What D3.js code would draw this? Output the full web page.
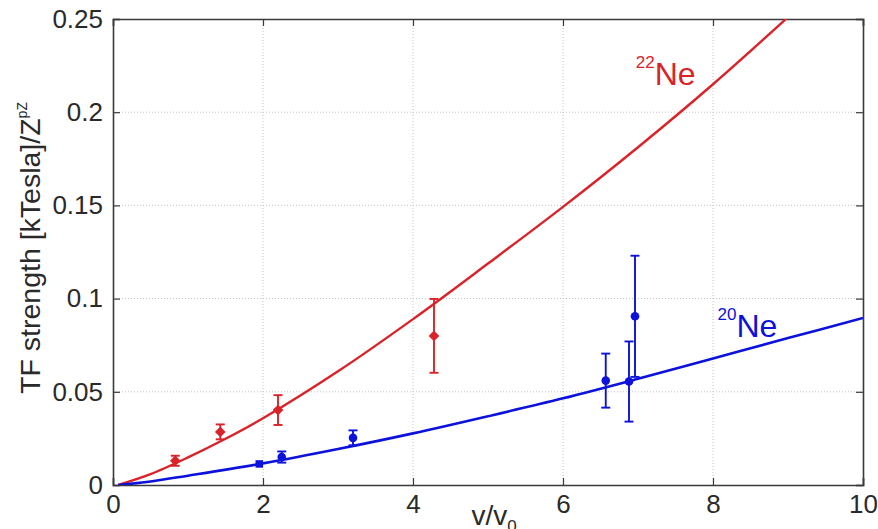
<!DOCTYPE html>
<html>
<head>
<meta charset="utf-8">
<script src="https://cdn.jsdelivr.net/npm/d3@7"></script>
<style>
  html, body { margin: 0; padding: 0; background: #fff; }
  svg { display: block; font-family: "Liberation Sans", Arial, Helvetica, sans-serif; }
</style>
</head>
<body>
<svg id="chart" width="878" height="529"></svg>
<script>
// Axis ticks
const xTicks = [0, 2, 4, 6, 8, 10];
const yTicks = [0, 0.05, 0.1, 0.15, 0.2, 0.25];
const yTickLabels = ["0", "0.05", "0.1", "0.15", "0.2", "0.25"];

// 22Ne measurements: velocity, strength, error
const ne22V   = [0.83, 1.43, 2.20, 4.28];
const ne22S   = [0.0130, 0.0285, 0.0402, 0.0800];
const ne22Err = [0.0027, 0.0040, 0.0080, 0.0198];

// 20Ne measurements
const ne20V      = [1.95, 2.25, 3.20, 6.57, 6.88, 6.96];
const ne20S      = [0.0113, 0.0150, 0.0253, 0.0560, 0.0555, 0.0905];
const ne20Err    = [0.0, 0.0030, 0.0040, 0.0145, 0.0215, 0.0325];
const ne20Marker = ["square", "circle", "circle", "circle", "circle", "circle"];

// Fitted curves
const fit22V = [0.07, 0.5, 1, 1.5, 2, 3, 4, 5, 6, 7, 8, 9];
const fit22S = [0, 0.0058, 0.0148, 0.0248, 0.0358, 0.0610, 0.0890, 0.1188, 0.1492, 0.1812, 0.2150, 0.2510];
const fit20V = [0.07, 0.5, 1, 2, 3, 4, 5, 6, 7, 8, 9, 10];
const fit20S = [0, 0.0019, 0.0050, 0.0116, 0.0193, 0.0277, 0.0369, 0.0465, 0.0570, 0.0679, 0.0788, 0.0896];

const RED = "#da2329";
const BLUE = "#0c12dc";
const AXIS = "#3a3a3a";
const TEXT = "#2a2a2a";

const svg = d3.select("#chart");
const W = 878, H = 529;
const m = { left: 113, top: 19, right: W - 863, bottom: H - 485 };

const x = d3.scaleLinear().domain([0, 10]).range([m.left, W - m.right]);
const y = d3.scaleLinear().domain([0, 0.25]).range([H - m.bottom, m.top]);

svg.append("defs").append("clipPath").attr("id", "plotClip")
  .append("rect")
  .attr("x", x(0)).attr("y", y(0.25))
  .attr("width", x(10) - x(0)).attr("height", y(0) - y(0.25));

// Dotted grid
const grid = svg.append("g");
grid.selectAll("line.vg").data(xTicks.filter(d => d > 0 && d < 10)).join("line")
  .attr("x1", d => x(d)).attr("x2", d => x(d))
  .attr("y1", y(0)).attr("y2", y(0.25))
  .attr("stroke", "#c4c4c4").attr("stroke-width", 1).attr("stroke-dasharray", "1,2");
grid.selectAll("line.hg").data(yTicks.filter(d => d > 0 && d < 0.25)).join("line")
  .attr("x1", x(0)).attr("x2", x(10))
  .attr("y1", d => y(d)).attr("y2", d => y(d))
  .attr("stroke", "#c4c4c4").attr("stroke-width", 1).attr("stroke-dasharray", "1,2");

// Axes with inward ticks on all four sides
const tickLen = 7;
const axB = svg.append("g").attr("transform", `translate(0,${y(0)})`)
  .call(d3.axisBottom(x).tickValues(xTicks).tickSize(-tickLen).tickPadding(14).tickFormat(d3.format("d")));
const axT = svg.append("g").attr("transform", `translate(0,${y(0.25)})`)
  .call(d3.axisTop(x).tickValues(xTicks).tickSize(-tickLen).tickFormat(""));
const axL = svg.append("g").attr("transform", `translate(${x(0)},0)`)
  .call(d3.axisLeft(y).tickValues(yTicks).tickSize(-tickLen).tickPadding(10)
    .tickFormat((d, i) => yTickLabels[i]));
const axR = svg.append("g").attr("transform", `translate(${x(10)},0)`)
  .call(d3.axisRight(y).tickValues(yTicks).tickSize(-tickLen).tickFormat(""));

[axB, axT, axL, axR].forEach(a => {
  a.select(".domain").attr("stroke", AXIS).attr("stroke-width", 1.6);
  a.selectAll(".tick line").attr("stroke", AXIS).attr("stroke-width", 1.2);
  a.selectAll(".tick text").attr("fill", TEXT).attr("font-size", 26)
    .attr("font-family", "Liberation Sans, Arial, sans-serif");
});
axB.selectAll(".tick text").attr("dy", "0.71em").attr("y", 10);

// Fit curves
const line = d3.line().x(d => x(d[0])).y(d => y(d[1])).curve(d3.curveCatmullRom.alpha(0.5));
const plot = svg.append("g").attr("clip-path", "url(#plotClip)");
plot.append("path").datum(d3.zip(fit22V, fit22S))
  .attr("d", line).attr("fill", "none").attr("stroke", RED).attr("stroke-width", 2.4);
plot.append("path").datum(d3.zip(fit20V, fit20S))
  .attr("d", line).attr("fill", "none").attr("stroke", BLUE).attr("stroke-width", 2.6);

// Error bars
function errorBars(g, vs, ss, es, color) {
  const cap = 4.5;
  vs.forEach((v, i) => {
    if (!es[i]) return;
    const cx = x(v), y1 = y(ss[i] + es[i]), y2 = y(ss[i] - es[i]);
    g.append("line").attr("x1", cx).attr("x2", cx).attr("y1", y1).attr("y2", y2)
      .attr("stroke", color).attr("stroke-width", 1.9);
    [y1, y2].forEach(yy => g.append("line")
      .attr("x1", cx - cap).attr("x2", cx + cap).attr("y1", yy).attr("y2", yy)
      .attr("stroke", color).attr("stroke-width", 1.9));
  });
}
const marks = svg.append("g");
errorBars(marks, ne22V, ne22S, ne22Err, RED);
errorBars(marks, ne20V, ne20S, ne20Err, BLUE);

// Markers
const diamond = d3.symbol().type(d3.symbolDiamond2).size(72);
marks.selectAll("path.ne22").data(d3.zip(ne22V, ne22S)).join("path")
  .attr("transform", d => `translate(${x(d[0])},${y(d[1])})`)
  .attr("d", diamond).attr("fill", RED);

const sq = d3.symbol().type(d3.symbolSquare).size(56);
const circ = d3.symbol().type(d3.symbolCircle).size(58);
marks.selectAll("path.ne20").data(d3.zip(ne20V, ne20S, ne20Marker)).join("path")
  .attr("transform", d => `translate(${x(d[0])},${y(d[1])})`)
  .attr("d", d => d[2] === "square" ? sq() : circ()).attr("fill", BLUE);

// Isotope labels
function isoLabel(mass, vx, vy, color) {
  const t = svg.append("text").attr("x", x(vx)).attr("y", y(vy))
    .attr("fill", color).attr("font-size", 32);
  t.append("tspan").attr("font-size", 17).attr("dy", -17).text(mass);
  t.append("tspan").attr("dy", 17).text("Ne");
}
isoLabel("22", 6.97, 0.2146, RED);
isoLabel("20", 8.06, 0.0793, BLUE);

// Axis titles
const yt = svg.append("text")
  .attr("transform", `translate(40,248) rotate(-90)`)
  .attr("text-anchor", "middle").attr("fill", TEXT).attr("font-size", 28.5);
yt.append("tspan").text("TF strength [kTesla]/Z");
yt.append("tspan").attr("font-size", 14).attr("dy", -13).text("pZ");

const xt = svg.append("text")
  .attr("x", 494).attr("y", 525)
  .attr("text-anchor", "middle").attr("fill", TEXT).attr("font-size", 28);
xt.append("tspan").text("v/v");
xt.append("tspan").attr("font-size", 17).attr("dy", 7).text("0");
</script>
</body>
</html>
